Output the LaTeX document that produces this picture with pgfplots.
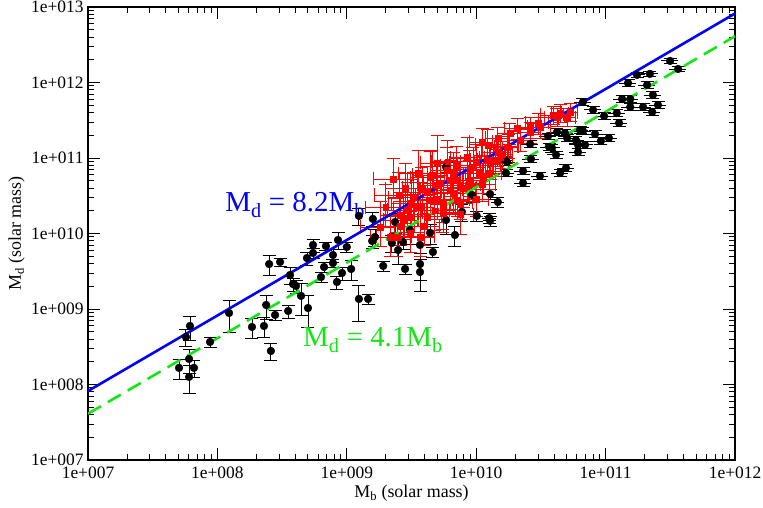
\documentclass[border=0pt]{standalone}
\usepackage{fontspec}
\setmainfont{Liberation Serif}
\usepackage{pgfplots}
\pgfplotsset{compat=1.18}
\usepackage{pgfplotstable}
\definecolor{mygreen}{RGB}{20,230,20}
\newcommand\tl{\fontsize{17.5}{20}\selectfont}
\newcommand\lb{\fontsize{18}{21}\selectfont}

\pgfplotstableread{
x y e ex
5.05e7 1.66e8 0.30 0
6.04e7 2.18e8 0.35 0
6.59e7 1.66e8 0.25 0
6.04e7 1.26e8 0.40 0
6.14e7 5.96e8 0.35 0
5.71e7 4.26e8 0.25 0
8.77e7 3.66e8 0.15 0
1.23e8 8.85e8 0.45 0
1.85e8 5.78e8 0.30 0
2.29e8 5.96e8 0.30 0
2.38e8 1.13e9 0.35 0
2.79e8 8.34e8 0.15 0
3.52e8 9.42e8 0.20 0
2.59e8 2.78e8 0.26 0
2.51e8 3.94e9 0.30 0
3.05e8 4.20e9 0.12 0
4.43e8 1.49e9 0.45 0
5.01e8 1.03e9 0.45 0
3.64e8 2.82e9 0.25 0
3.84e8 2.14e9 0.20 0
4.05e8 2.02e9 0.20 0
5.48e8 7.05e9 0.20 0
5.48e8 5.52e9 0.15 0
4.92e8 4.73e9 0.20 0
6.67e8 3.60e9 0.15 0
7.82e8 4.06e9 0.12 0
6.32e8 2.65e9 0.15 0
8.39e8 2.28e9 0.20 0
6.90e8 6.82e9 0.12 0
8.55e8 8.20e9 0.25 0
1.00e9 6.62e9 0.15 0
7.82e8 5.19e9 0.20 0
9.18e8 3.00e9 0.20 0
1.08e9 3.39e9 0.30 0
1.24e9 1.71e10 0.25 0
1.59e9 1.56e10 0.20 0
1.57e9 7.96e9 0.20 0
1.91e9 3.72e9 0.15 0
2.82e9 3.39e9 0.15 0
3.68e9 3.94e9 0.40 0
3.68e9 3.09e9 0.45 0
4.63e9 5.69e9 0.15 0
1.24e9 1.36e9 0.50 0
1.46e9 1.36e9 0.15 0
1.65e9 8.99e9 0.25 0
2.23e9 7.48e9 0.25 0
2.49e9 6.04e9 0.35 0
2.72e9 7.71e9 0.20 0
2.36e9 1.42e10 0.30 0
3.08e9 1.11e10 0.35 0
5.85e9 1.51e10 0.35 0
5.85e9 7.60e10 0.15 0
9.29e9 3.24e10 0.20 0
1.01e10 1.71e10 0.15 0
1.28e10 1.47e10 0.15 0.12
1.47e10 2.61e10 0.15 0.12
2.30e10 4.67e10 0.10 0.15
2.30e10 6.73e10 0.10 0.15
2.65e10 9.70e10 0.10 0.15
3.11e10 5.78e10 0.10 0.15
4.45e10 6.32e10 0.10 0.15
4.94e10 7.38e10 0.10 0.15
1.70e10 6.32e10 0.10 0.15
1.67e10 9.42e10 0.10 0.15
2.61e10 1.53e11 0.10 0.15
3.59e10 1.95e11 0.10 0.15
3.85e10 1.36e11 0.12 0.15
4.14e10 1.10e11 0.10 0.15
4.21e10 2.21e11 0.10 0.15
4.85e10 2.14e11 0.10 0.15
5.04e10 1.84e11 0.10 0.15
5.90e10 1.73e11 0.10 0.15
6.12e10 1.49e11 0.10 0.15
6.12e10 1.20e11 0.10 0.15
6.93e10 1.49e11 0.10 0.15
6.68e10 2.28e11 0.10 0.15
8.28e10 2.08e11 0.10 0.15
9.20e10 1.68e11 0.10 0.15
1.06e11 1.84e11 0.10 0.15
6.68e10 5.52e11 0.10 0.15
8.00e10 4.33e11 0.10 0.15
9.73e10 3.60e11 0.10 0.15
1.22e11 3.94e11 0.10 0.15
1.27e11 2.91e11 0.10 0.15
1.34e11 6.04e11 0.10 0.15
1.55e11 6.04e11 0.10 0.15
1.55e11 4.73e11 0.10 0.15
1.95e11 4.73e11 0.10 0.15
2.29e11 4.06e11 0.10 0.15
2.54e11 5.04e11 0.10 0.15
2.32e11 6.82e11 0.10 0.15
1.49e11 9.84e11 0.10 0.15
2.09e11 9.27e11 0.10 0.15
2.20e11 1.30e12 0.08 0.15
1.75e11 1.26e12 0.08 0.15
3.15e11 1.93e12 0.08 0.15
3.63e11 1.51e12 0.08 0.15
6.34e10 2.35e11 0.10 0.15
3.66e10 1.40e11 0.10 0.15
4.40e9 1.02e10 0.30 0
6.85e9 9.55e9 0.30 0
7.76e9 1.93e10 0.25 0
3.68e9 7.05e9 0.30 0
1.28e10 3.33e10 0.15 0.12
1.73e10 8.85e10 0.10 0.15
1.26e10 1.60e10 0.15 0.12
}\blackdata

\pgfplotstableread{
x y ex eyp eym
2.28e9 5.27e10 0.30 0.9 0.45
2.53e9 3.24e10 0.35 1.0 0.45
4.98e9 8.59e10 0.25 1.3 0.50
4.40e9 5.60e10 0.30 1.2 0.50
3.81e9 4.01e10 0.30 0.9 0.45
3.25e9 3.04e10 0.35 1.1 0.45
1.81e9 1.22e10 0.30 1.2 0.45
2.58e9 1.76e10 0.30 1.0 0.45
5.25e9 4.67e10 0.25 0.9 0.45
6.28e9 5.12e10 0.25 0.8 0.40
6.62e9 3.44e10 0.30 0.9 0.45
4.40e9 2.78e10 0.30 1.1 0.45
3.55e9 2.24e10 0.35 1.1 0.45
2.92e9 2.05e10 0.30 1.3 0.50
5.53e9 2.54e10 0.30 0.9 0.45
2.58e9 1.26e10 0.30 1.1 0.45
5.94e9 6.93e10 0.25 1.0 0.45
8.49e9 1.03e11 0.25 0.8 0.40
1.11e10 1.63e11 0.20 0.5 0.35
1.23e10 1.49e11 0.20 0.6 0.35
1.21e10 9.42e10 0.25 0.7 0.40
9.44e9 7.60e10 0.25 0.8 0.40
7.11e9 5.12e10 0.25 0.9 0.45
8.65e9 4.39e10 0.25 0.7 0.40
1.07e10 6.32e10 0.25 0.7 0.40
1.35e10 9.42e10 0.25 0.6 0.35
1.47e10 1.20e11 0.25 0.5 0.35
3.08e9 1.66e10 0.35 1.0 0.45
4.17e9 1.66e10 0.30 0.9 0.45
2.72e9 1.51e10 0.30 1.2 0.45
2.16e9 8.99e9 0.30 1.0 0.45
3.08e9 1.02e10 0.30 0.9 0.45
5.53e9 2.05e10 0.25 0.8 0.45
7.50e9 2.54e10 0.25 0.8 0.40
6.62e9 6.32e10 0.25 0.9 0.45
1.47e10 1.84e11 0.20 0.40 0.30
1.82e10 2.14e11 0.20 0.35 0.30
2.07e10 2.49e11 0.20 0.35 0.30
2.61e10 2.58e11 0.20 0.35 0.30
3.01e10 2.91e11 0.20 0.35 0.30
3.93e10 3.72e11 0.20 0.30 0.25
4.21e10 3.49e11 0.20 0.30 0.25
1.28e10 8.59e10 0.25 0.7 0.40
1.53e10 1.03e11 0.25 0.6 0.35
8.95e9 5.12e10 0.25 0.8 0.40
7.50e9 4.13e10 0.25 0.8 0.40
6.28e9 3.77e10 0.25 0.9 0.45
7.11e9 2.78e10 0.25 0.8 0.40
1.13e10 5.60e10 0.25 0.7 0.40
1.73e10 1.40e11 0.20 0.40 0.30
2.18e10 1.73e11 0.20 0.40 0.30
5.53e9 1.87e10 0.30 0.9 0.45
5.04e10 3.49e11 0.15 0.30 0.25
5.31e10 4.06e11 0.15 0.30 0.25
4.45e10 3.94e11 0.15 0.30 0.25
2.61e10 2.21e11 0.20 0.35 0.30
3.11e10 2.58e11 0.20 0.35 0.30
3.68e9 8.99e9 0.30 1.0 0.45
2.44e9 8.99e9 0.30 1.0 0.45
3.68e9 2.24e10 0.30 1.1 0.45
4.98e9 4.39e10 0.30 1.0 0.45
4.55e9 5.96e10 0.30 1.1 0.45
2.00e9 2.24e10 0.30 1.0 0.45
2.82e9 3.98e10 0.30 1.1 0.45
3.55e9 6.31e10 0.30 1.0 0.45
4.17e9 3.55e10 0.30 1.2 0.50
5.01e9 2.82e10 0.30 1.0 0.45
6.03e9 8.91e10 0.25 0.9 0.45
7.08e9 7.94e10 0.25 0.8 0.40
7.94e9 3.98e10 0.25 0.9 0.45
8.91e9 7.08e10 0.25 0.8 0.40
1.00e10 8.91e10 0.25 0.7 0.40
1.12e10 4.47e10 0.25 0.8 0.40
1.26e10 6.31e10 0.25 0.7 0.40
1.41e10 8.91e10 0.25 0.6 0.35
1.58e10 1.12e11 0.20 0.5 0.35
1.78e10 1.41e11 0.20 0.45 0.30
3.98e9 1.26e10 0.30 1.0 0.45
3.16e9 2.51e10 0.30 1.1 0.45
4.79e9 2.00e10 0.30 1.0 0.45
7.59e9 1.78e10 0.25 0.9 0.45
1.00e10 2.82e10 0.25 0.8 0.40
}\reddata

\begin{document}
\begin{tikzpicture}
\path[use as bounding box] (-88bp,-48bp) rectangle (675bp,460bp);
\begin{axis}[
  at={(0,0)}, anchor=south west,
  scale only axis, width=647bp, height=453bp,
  xmode=log, ymode=log,
  xmin=1e7, xmax=1e12, ymin=1e7, ymax=1e13,
  xtick={1e7,1e8,1e9,1e10,1e11,1e12},
  xticklabels={{\tl 1e+007},{\tl 1e+008},{\tl 1e+009},{\tl 1e+010},{\tl 1e+011},{\tl 1e+012}},
  ytick={1e7,1e8,1e9,1e10,1e11,1e12,1e13},
  yticklabels={{\tl 1e+007},{\tl 1e+008},{\tl 1e+009},{\tl 1e+010},{\tl 1e+011},{\tl 1e+012},{\tl 1e+013}},
  minor xtick={2e7,3e7,4e7,5e7,6e7,7e7,8e7,9e7,2e8,3e8,4e8,5e8,6e8,7e8,8e8,9e8,2e9,3e9,4e9,5e9,6e9,7e9,8e9,9e9,2e10,3e10,4e10,5e10,6e10,7e10,8e10,9e10,2e11,3e11,4e11,5e11,6e11,7e11,8e11,9e11},
  minor ytick={2e7,3e7,4e7,5e7,6e7,7e7,8e7,9e7,2e8,3e8,4e8,5e8,6e8,7e8,8e8,9e8,2e9,3e9,4e9,5e9,6e9,7e9,8e9,9e9,2e10,3e10,4e10,5e10,6e10,7e10,8e10,9e10,2e11,3e11,4e11,5e11,6e11,7e11,8e11,9e11,2e12,3e12,4e12,5e12,6e12,7e12,8e12,9e12},
  tick align=inside,
  major tick length=12bp, minor tick length=6bp,
  axis line style={line width=1.2bp},
  every tick/.style={black, line width=0.9bp},
  xticklabel style={anchor=base, yshift=-19bp},
  yticklabel style={xshift=-1bp},
  xlabel={\lb M\textsubscript{b} (solar mass)},
  ylabel={\lb M\textsubscript{d} (solar mass)},
  xlabel style={at={(axis description cs:0.5,-0.0839)}, anchor=base},
  ylabel style={at={(axis description cs:-0.1036,0.5)}, anchor=base},
]
\addplot[only marks, mark=*, mark size=3.9bp, black,
  error bars/.cd, y dir=both, y explicit relative,
  error bar style={line width=0.9bp, black},
  error mark options={rotate=90, black, mark size=6.5bp, line width=0.9bp}]
  table[x=x, y=y, y error=e] {\blackdata};
\addplot[draw=none, mark=none,
  error bars/.cd, x dir=both, x explicit relative, error mark=none,
  error bar style={line width=0.9bp, black}]
  table[x=x, y=y, x error=ex] {\blackdata};
\addplot[only marks, mark=square*, mark size=2.9bp, red,
  error bars/.cd, x dir=both, x explicit relative, y dir=both, y explicit relative,
  error bar style={line width=0.8bp, red},
  error mark options={rotate=90, red, mark size=6.5bp, line width=0.8bp}]
  table[x=x, y=y, x error=ex, y error plus=eyp, y error minus=eym] {\reddata};
\addplot[blue, line width=2.6bp] coordinates {(1e7,8.2e7) (1e12,8.2e12)};
\addplot[mygreen, line width=2.6bp, dash pattern=on 15bp off 8bp] coordinates {(1e7,4.1e7) (1e12,4.1e12)};
\node[anchor=base west, inner sep=0, text=blue, font=\fontsize{29}{33}\selectfont] at (axis cs:1.15e8,1.93e10) {M\textsubscript{d} = 8.2M\textsubscript{b}};
\node[anchor=base west, inner sep=0, text=mygreen, font=\fontsize{29}{33}\selectfont] at (axis cs:4.59e8,3.14e8) {M\textsubscript{d} = 4.1M\textsubscript{b}};
\end{axis}
\end{tikzpicture}
\end{document}
